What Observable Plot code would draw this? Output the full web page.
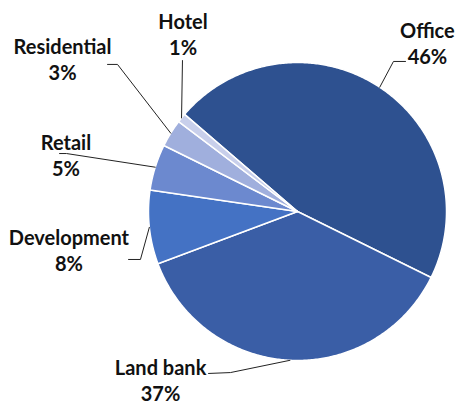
<!DOCTYPE html>
<html>
<head>
<meta charset="utf-8">
<script src="https://cdn.jsdelivr.net/npm/d3@7"></script>
<script src="https://cdn.jsdelivr.net/npm/@observablehq/plot@0.6"></script>
<style>
  html, body { margin: 0; padding: 0; background: #fff; }
  #chart { width: 457px; height: 405px; }
</style>
</head>
<body>
<div id="chart"></div>
<script>
// ---- data ----
const categories = ["Office", "Land bank", "Development", "Retail", "Residential", "Hotel"];
const shares = [46, 37, 8, 5, 3, 1];
const pctLabels = ["46%", "37%", "8%", "5%", "3%", "1%"];
const colors = ["#2E5190", "#3A5EA6", "#4472C4", "#6C89CF", "#A0AFDD", "#C8CFEB"];

// ---- layout (label anchors & leader elbows in pie-radius units) ----
const labelPos = {
  "Office": [0.872, 1.075],
  "Hotel": [-0.768, 1.136],
  "Residential": [-1.577, 0.968],
  "Retail": [-1.554, 0.325],
  "Development": [-1.534, -0.312],
  "Land bank": [-0.919, -1.186]
};
const leaderPath = {
  "Office": [[0.644, 1.007], [0.725, 1.007]],
  "Hotel": [[-0.772, 1.013]],
  "Residential": [[-1.208, 0.987], [-1.275, 0.987]],
  "Retail": [[-1.550, 0.389], [-1.597, 0.389]],
  "Development": [[-1.054, -0.322], [-1.134, -0.322]],
  "Land bank": [[-0.450, -1.081], [-0.597, -1.087]]
};

const startDeg = -49.3;
const pie = d3.pie().sort(null).value(d => d.value)
  .startAngle(startDeg * Math.PI / 180)
  .endAngle((startDeg + 360) * Math.PI / 180);
const rows = categories.map((c, i) => ({name: c, value: shares[i], pct: pctLabels[i]}));
const arcs = pie(rows);

// slice polygons in data space (unit circle)
const slicePts = [];
arcs.forEach(a => {
  const n = Math.max(4, Math.ceil((a.endAngle - a.startAngle) / 0.01));
  slicePts.push({name: a.data.name, x: 0, y: 0});
  for (let k = 0; k <= n; k++) {
    const t = a.startAngle + (a.endAngle - a.startAngle) * k / n;
    slicePts.push({name: a.data.name, x: Math.sin(t), y: Math.cos(t)});
  }
  slicePts.push({name: a.data.name, x: 0, y: 0});
});

// leader lines: from slice mid-angle on the rim to the label
const leaderPts = [];
arcs.forEach(a => {
  const m = (a.startAngle + a.endAngle) / 2;
  leaderPts.push({name: a.data.name, x: Math.sin(m), y: Math.cos(m)});
  leaderPath[a.data.name].forEach(p => leaderPts.push({name: a.data.name, x: p[0], y: p[1]}));
});

const labels = rows.map(r => ({name: r.name, pct: r.pct, x: labelPos[r.name][0], y: labelPos[r.name][1]}));

const fs = 20;
const font = "Lato, 'Open Sans', sans-serif";

const chart = Plot.plot({
  width: 457,
  height: 405,
  margin: 0,
  x: {domain: [-1, 1], range: [148, 446], axis: null},
  y: {domain: [-1, 1], range: [360, 62], axis: null},
  color: {domain: categories, range: colors},
  style: {fontFamily: font, background: "#fff"},
  marks: [
    Plot.line(slicePts, {x: "x", y: "y", z: "name", fill: "name", stroke: "#fff", strokeWidth: 1.5, strokeLinejoin: "round"}),
    Plot.line(leaderPts, {x: "x", y: "y", z: "name", stroke: "#222", strokeWidth: 1}),
    Plot.text(labels, {x: "x", y: "y", text: "name", fontSize: fs, fontWeight: "bold", fill: "#111", dy: -13, textAnchor: "middle", lineAnchor: "bottom"}),
    Plot.text(labels, {x: "x", y: "y", text: "pct", fontSize: fs, fontWeight: "bold", fill: "#111", dy: 13, textAnchor: "middle", lineAnchor: "bottom"})
  ]
});
document.getElementById("chart").appendChild(chart);
</script>
</body>
</html>
